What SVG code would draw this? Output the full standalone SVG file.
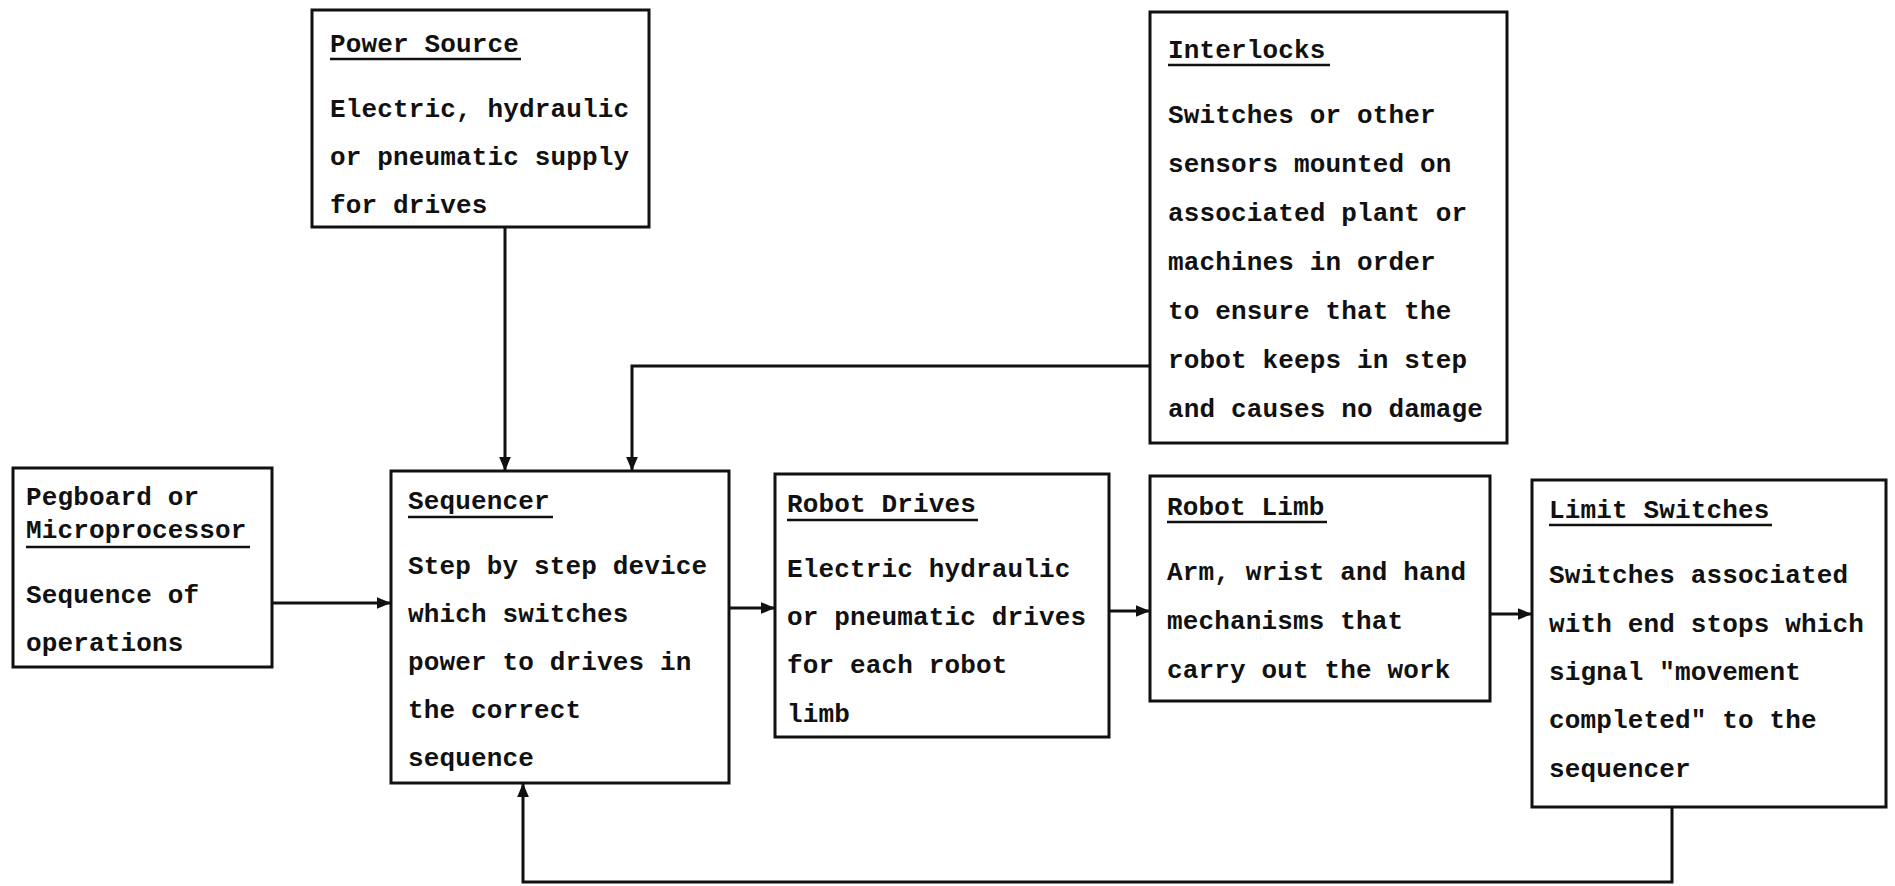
<svg xmlns="http://www.w3.org/2000/svg" width="1895" height="886" viewBox="0 0 1895 886">
<style>
.box{fill:none;stroke:#111;stroke-width:3}
.t{font-family:"Liberation Mono","Courier New",monospace;font-weight:bold;font-size:26px;letter-spacing:0.15px;fill:#111}
.ul{stroke:#111;stroke-width:2.5}
.c{fill:none;stroke:#111;stroke-width:3}
</style>
<defs>
<marker id="ah" viewBox="0 0 12 10" refX="12" refY="5" markerWidth="14" markerHeight="12" markerUnits="userSpaceOnUse" orient="auto">
<path d="M0,0 L12,5 L0,10 z" fill="#111"/>
</marker>
</defs>
<rect width="1895" height="886" fill="#fff"/>

<g id="power-source">
<rect class="box" x="312" y="10" width="337" height="217"/>
<text class="t" x="330" y="52">Power Source</text>
<line class="ul" x1="330" y1="59" x2="521" y2="59"/>
<text class="t" x="330" y="117">Electric, hydraulic</text>
<text class="t" x="330" y="165">or pneumatic supply</text>
<text class="t" x="330" y="213">for drives</text>
</g>

<g id="interlocks">
<rect class="box" x="1150" y="12" width="357" height="431"/>
<text class="t" x="1168" y="58">Interlocks</text>
<line class="ul" x1="1168" y1="65" x2="1330" y2="65"/>
<text class="t" x="1168" y="123">Switches or other</text>
<text class="t" x="1168" y="172">sensors mounted on</text>
<text class="t" x="1168" y="221">associated plant or</text>
<text class="t" x="1168" y="270">machines in order</text>
<text class="t" x="1168" y="319">to ensure that the</text>
<text class="t" x="1168" y="368">robot keeps in step</text>
<text class="t" x="1168" y="417">and causes no damage</text>
</g>

<g id="pegboard">
<rect class="box" x="13" y="468" width="259" height="199"/>
<text class="t" x="26" y="505">Pegboard or</text>
<text class="t" x="26" y="538">Microprocessor</text>
<line class="ul" x1="26" y1="547" x2="250" y2="547"/>
<text class="t" x="26" y="603">Sequence of</text>
<text class="t" x="26" y="651">operations</text>
</g>

<g id="sequencer">
<rect class="box" x="391" y="471" width="338" height="312"/>
<text class="t" x="408" y="509">Sequencer</text>
<line class="ul" x1="408" y1="517" x2="553" y2="517"/>
<text class="t" x="408" y="574">Step by step device</text>
<text class="t" x="408" y="622">which switches</text>
<text class="t" x="408" y="670">power to drives in</text>
<text class="t" x="408" y="718">the correct</text>
<text class="t" x="408" y="766">sequence</text>
</g>

<g id="robot-drives">
<rect class="box" x="775" y="474" width="334" height="263"/>
<text class="t" x="787" y="512">Robot Drives</text>
<line class="ul" x1="787" y1="520" x2="978" y2="520"/>
<text class="t" x="787" y="577">Electric hydraulic</text>
<text class="t" x="787" y="625">or pneumatic drives</text>
<text class="t" x="787" y="673">for each robot</text>
<text class="t" x="787" y="722">limb</text>
</g>

<g id="robot-limb">
<rect class="box" x="1150" y="476" width="340" height="225"/>
<text class="t" x="1167" y="515">Robot Limb</text>
<line class="ul" x1="1167" y1="522" x2="1327" y2="522"/>
<text class="t" x="1167" y="580">Arm, wrist and hand</text>
<text class="t" x="1167" y="629">mechanisms that</text>
<text class="t" x="1167" y="678">carry out the work</text>
</g>

<g id="limit-switches">
<rect class="box" x="1532" y="480" width="354" height="327"/>
<text class="t" x="1549" y="518">Limit Switches</text>
<line class="ul" x1="1549" y1="525" x2="1772" y2="525"/>
<text class="t" x="1549" y="583">Switches associated</text>
<text class="t" x="1549" y="632">with end stops which</text>
<text class="t" x="1549" y="680">signal "movement</text>
<text class="t" x="1549" y="728">completed" to the</text>
<text class="t" x="1549" y="777">sequencer</text>
</g>

<g id="connectors">
<path class="c" d="M505,227 V471" marker-end="url(#ah)"/>
<path class="c" d="M1150,366 H632 V471" marker-end="url(#ah)"/>
<path class="c" d="M272,603 H391" marker-end="url(#ah)"/>
<path class="c" d="M729,608 H775" marker-end="url(#ah)"/>
<path class="c" d="M1109,611 H1150" marker-end="url(#ah)"/>
<path class="c" d="M1490,614 H1532" marker-end="url(#ah)"/>
<path class="c" d="M1672,807 V882 H523 V783" marker-end="url(#ah)"/>
</g>
</svg>
